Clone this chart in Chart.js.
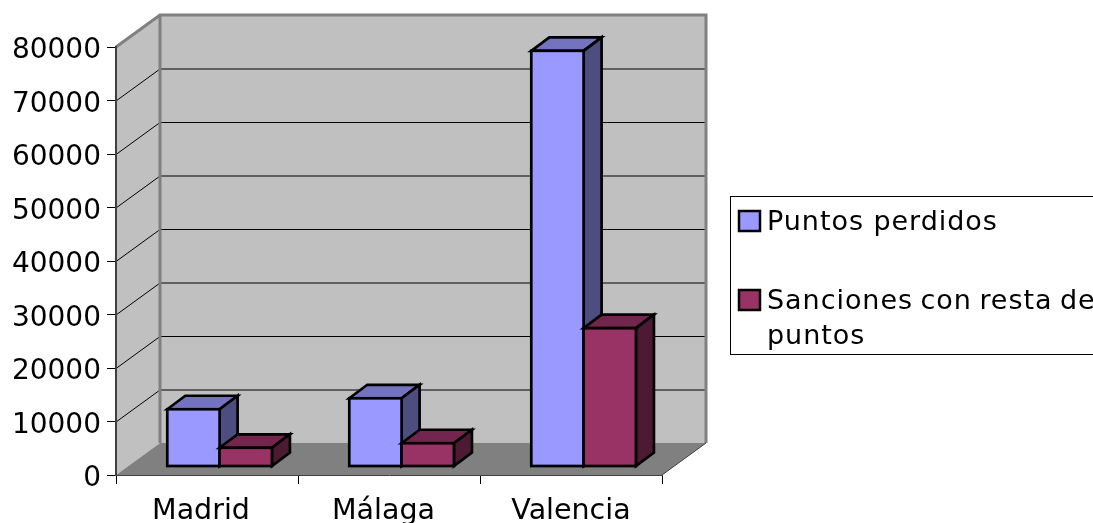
<!DOCTYPE html>
<html><head><meta charset="utf-8">
<style>html,body{margin:0;padding:0;background:#fff}#w{width:1093px;height:523px;position:relative}</style>
<script src="https://cdn.jsdelivr.net/npm/chart.js@4"></script>
</head><body><div id="w"><canvas id="c" width="1093" height="523"></canvas></div>
<script>
const categories = ['Madrid', 'Málaga', 'Valencia'];
const puntosPerdidos = [10700, 12750, 77700];
const sancionesResta = [3500, 4350, 25850];
const seriesNames = ['Puntos perdidos', 'Sanciones con resta de puntos'];
const yTicks = [0, 10000, 20000, 30000, 40000, 50000, 60000, 70000, 80000];

const FONT = '"DejaVu Sans"';
const DX = 44, DY = -32;      // wall depth
const BX = 12.6, BY = -8.5;   // bar offset inside depth
const BDX = 18, BDY = -13.5;  // bar depth
const LABEL_DX = [-6, -5.5, 0]; // category label nudges

const poly = (ctx, pts, fill, stroke, lw) => {
  ctx.beginPath();
  pts.forEach((p, i) => i ? ctx.lineTo(p[0], p[1]) : ctx.moveTo(p[0], p[1]));
  ctx.closePath();
  if (fill) { ctx.fillStyle = fill; ctx.fill(); }
  if (stroke) { ctx.strokeStyle = stroke; ctx.lineWidth = lw; ctx.lineJoin = 'miter'; ctx.stroke(); }
};

const walls = {
  id: 'walls',
  beforeDraw(chart) {
    const { ctx, chartArea: a, scales: { x, y } } = chart;
    if (!chart.$nudged) {
      chart.$nudged = true;
      y.getLabelItems(a).forEach(it => { it.options.translation = [it.options.translation[0], it.options.translation[1] + 4]; });
      x.getLabelItems(a).forEach((it, i) => { it.options.translation = [it.options.translation[0] + LABEL_DX[i], it.options.translation[1]]; });
    }
    ctx.save();
    poly(ctx, [[a.left + DX, a.top + DY], [a.right + DX, a.top + DY], [a.right + DX, a.bottom + DY], [a.left + DX, a.bottom + DY]], '#c0c0c0');
    poly(ctx, [[a.left, a.top], [a.left + DX, a.top + DY], [a.left + DX, a.bottom + DY], [a.left, a.bottom]], '#c0c0c0');
    poly(ctx, [[a.left, a.bottom], [a.left + DX, a.bottom + DY], [a.right + DX, a.bottom + DY], [a.right, a.bottom]], '#808080');
    ctx.strokeStyle = '#000'; ctx.lineWidth = 1;
    y.ticks.forEach(t => {
      if (t.value === 0) return;
      const py = y.getPixelForValue(t.value);
      ctx.beginPath();
      ctx.moveTo(a.left, py + .5);
      ctx.lineTo(a.left + DX, py + DY + .5);
      if (t.value < 80000) ctx.lineTo(a.right + DX, py + DY + .5);
      ctx.stroke();
    });
    ctx.strokeStyle = '#808080'; ctx.lineWidth = 3;
    ctx.beginPath();
    ctx.moveTo(a.left, a.top);
    ctx.lineTo(a.left + DX, a.top + DY);
    ctx.lineTo(a.right + DX, a.top + DY);
    ctx.lineTo(a.right + DX, a.bottom + DY);
    ctx.moveTo(a.left + DX, a.top + DY);
    ctx.lineTo(a.left + DX, a.bottom + DY);
    ctx.stroke();
    ctx.strokeStyle = '#404040'; ctx.lineWidth = 1;
    ctx.beginPath();
    ctx.moveTo(a.right, a.bottom);
    ctx.lineTo(a.right + DX, a.bottom + DY);
    ctx.stroke();
    ctx.restore();
  }
};

const LW = 2.7;
const sides = (ctx, chart, i) => {
  const ds = chart.data.datasets[i];
  chart.getDatasetMeta(i).data.forEach(el => {
    const w = el.width / 2, l = el.x - w, r = el.x + w, t = el.y, b = el.base;
    poly(ctx, [[l, t], [l + BDX, t + BDY], [r + BDX, t + BDY], [r, t]], ds.topColor, '#000', LW);
    poly(ctx, [[r, t], [r + BDX, t + BDY], [r + BDX, b + BDY], [r, b]], ds.sideColor, '#000', LW);
  });
};
const outlines = (ctx, chart, i) => {
  chart.getDatasetMeta(i).data.forEach(el => {
    ctx.strokeStyle = '#000'; ctx.lineWidth = LW;
    ctx.strokeRect(el.x - el.width / 2, el.y, el.width, el.base - el.y);
  });
};

const bars3d = {
  id: 'bars3d',
  beforeDatasetDraw(chart, args) {
    if (args.index === 1) return false;  // drawn after series 0, in front of it
    chart.ctx.save();
    chart.ctx.translate(BX, BY);
    sides(chart.ctx, chart, 0);
  },
  afterDatasetDraw(chart, args) {
    const ctx = chart.ctx;
    outlines(ctx, chart, 0);
    sides(ctx, chart, 1);
    chart.getDatasetMeta(1).controller.draw();
    outlines(ctx, chart, 1);
    ctx.restore();
  }
};

const legendBox = {
  id: 'legendBox',
  afterDraw(chart) {
    const { ctx } = chart;
    ctx.save();
    ctx.fillStyle = '#000'; ctx.fillRect(730, 196, 363, 1);
    ctx.fillRect(730, 196, 1, 159); ctx.fillRect(730, 354, 363, 1);
    ctx.font = '27px ' + FONT;
    ctx.letterSpacing = '0.95px';
    ctx.textBaseline = 'alphabetic'; ctx.textAlign = 'left';
    const swatch = (y, ds) => {
      ctx.fillStyle = ds.backgroundColor;
      ctx.fillRect(739, y, 21, 20);
      ctx.strokeStyle = '#000'; ctx.lineWidth = 2.5;
      ctx.strokeRect(739, y, 21, 20);
    };
    const [a, b] = chart.data.datasets;
    swatch(211, a); swatch(290, b);
    ctx.fillStyle = '#000';
    ctx.fillText(a.label, 767, 230);
    const words = b.label.split(' ');
    ctx.wordSpacing = '-2px';
    ctx.fillText(words.slice(0, 4).join(' '), 767, 309);
    ctx.wordSpacing = '0px';
    ctx.fillText(words.slice(4).join(' '), 767, 344);
    ctx.restore();
  }
};

new Chart(document.getElementById('c'), {
  type: 'bar',
  data: {
    labels: categories,
    datasets: [
      { label: seriesNames[0], data: puntosPerdidos, backgroundColor: '#9999ff', topColor: '#7373bf', sideColor: '#4d4d80' },
      { label: seriesNames[1], data: sancionesResta, backgroundColor: '#993366', topColor: '#73264d', sideColor: '#4d1a33' }
    ]
  },
  plugins: [walls, bars3d, legendBox],
  options: {
    responsive: false, animation: false,
    layout: { padding: { top: 47, right: 431, left: 0, bottom: 0 } },
    datasets: { bar: { borderWidth: 0, categoryPercentage: 0.575, barPercentage: 1, clip: false } },
    plugins: { legend: { display: false }, tooltip: { enabled: false }, title: { display: false } },
    scales: {
      x: {
        afterFit(s) { s.height = 48; },
        border: { color: '#404040', width: 1 },
        grid: { drawOnChartArea: false, color: '#000', tickLength: 9, drawTicks: true, offset: true },
        ticks: { color: '#000', font: { family: FONT, size: 28.5 }, padding: 10, maxRotation: 0 }
      },
      y: {
        min: 0, max: 80000,
        afterFit(s) { s.width = 116; },
        afterBuildTicks(s) { s.ticks = yTicks.map(v => ({ value: v })); },
        border: { color: '#404040', width: 2 },
        grid: { drawOnChartArea: false, color: '#000', tickLength: 9 },
        ticks: { color: '#000', font: { family: FONT, size: 28 }, padding: 6, callback: v => String(v) }
      }
    }
  }
});
</script></body></html>
